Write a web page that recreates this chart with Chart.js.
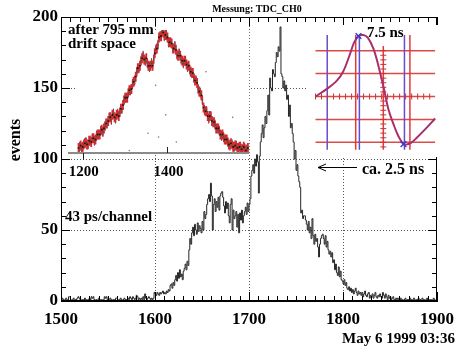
<!DOCTYPE html>
<html>
<head>
<meta charset="utf-8">
<script src="https://cdn.jsdelivr.net/npm/chart.js@4.4.1/dist/chart.umd.min.js"></script>
<style>
  body { margin: 0; background: #fff; }
  #wrap { position: relative; width: 462px; height: 355px; }
  #wrap canvas { position: absolute; }
</style>
</head>
<body>
<div id="wrap">
  <canvas id="tdc" width="462" height="355" style="left:0;top:0"></canvas>
  <canvas id="drift" width="192" height="162" style="left:64px;top:18px"></canvas>
  <canvas id="scope" width="136" height="132" style="left:307px;top:25px"></canvas>
</div>
<script>
// TDC histogram, one bin per channel, 1500..1899
const firstChannel = 1500;
const lastChannel = 1900;
const counts = [
  1,0,2,1,0,1,2,1,0,3,3,1,0,1,2,0,1,1,2,3,
  2,1,0,1,1,0,2,1,1,0,1,2,1,3,2,3,1,0,1,0,
  1,2,0,1,1,0,1,3,2,3,1,1,0,2,1,0,1,1,0,2,
  2,1,0,1,2,1,0,1,2,1,1,0,2,1,3,2,1,3,2,1,
  2,4,3,1,2,1,2,1,3,1,5,2,1,2,3,2,1,2,1,2,
  6,5,4,6,5,4,6,5,6,7,5,6,5,7,6,8,7,11,12,9,
  13,11,15,18,14,20,16,22,17,19,15,21,23,26,22,28,25,36,44,40,
  48,52,46,54,50,47,55,49,53,51,48,56,50,63,58,61,68,72,75,70,
  83,74,50,68,72,63,70,66,73,64,74,76,77,73,67,62,70,65,69,60,
  55,68,72,50,64,58,60,63,52,61,48,62,57,64,55,60,63,66,61,69,
  63,68,72,88,92,96,90,100,95,103,98,76,102,112,118,124,115,122,130,125,
  134,145,131,157,150,148,163,160,158,168,175,172,179,176,193,160,158,150,155,148,
  152,142,145,130,138,122,125,118,112,100,106,92,96,88,84,80,62,64,58,60,
  60,57,54,50,56,48,52,44,58,46,40,47,42,44,38,31,40,44,46,47,
  44,40,46,38,42,36,33,35,31,34,27,29,22,26,20,18,24,17,21,15,
  14,12,15,11,13,9,8,10,7,9,6,8,5,7,9,6,4,7,5,6,
  4,6,3,5,7,4,3,5,6,2,4,3,5,2,4,6,3,2,4,3,
  5,3,2,6,4,2,5,3,1,4,2,3,1,2,3,1,0,2,1,2,
  1,0,2,1,1,0,1,2,0,1,1,0,2,1,0,1,2,1,0,1,
  1,2,0,1,0,2,1,1,0,1,2,0,1,0,1,1,0,2,1,0
];
const xMajor = 100, yMajor = 50;

// inset 1: profile after 795 mm drift space (two overlaid runs)
const driftX = [1190,1195,1200,1205,1210,1215,1220,1225,1230,1235,1240,1245,1250,1255,1260,1265,1270,1275,1280,1285,
  1290,1295,1300,1305,1310,1315,1320,1325,1330,1335,1340,1345,1350,1355,1360,1365,1370,1375,1380,1385,
  1390,1395,1400,1405,1410,1415,1420,1425,1430,1435,1440,1445,1450,1455,1460,1465,1470,1475,1480,1485,
  1490,1495,1500,1505,1510,1515,1520,1525,1530,1535,1540,1545,1550,1555,1560,1565,1570,1575,1580,1585,1590];
const driftY = [4,6,5,8,7,10,9,12,11,15,15,19,20,24,26,29,31,29,31,30,
  36,39,45,45,51,52,58,62,69,71,77,76,77,71,71,71,81,85,94,95,
  98,96,94,90,89,85,84,79,79,75,75,72,71,66,65,59,57,50,47,37,
  34,30,30,26,25,20,20,15,15,11,11,7,8,5,6,4,5,3,5,2,4];
const driftX2 = [1192.5,1197.5,1202.5,1207.5,1212.5,1217.5,1222.5,1227.5,1232.5,1237.5,1242.5,1247.5,1252.5,1257.5,1262.5,1267.5,1272.5,1277.5,1282.5,1287.5,
  1292.5,1297.5,1302.5,1307.5,1312.5,1317.5,1322.5,1327.5,1332.5,1337.5,1342.5,1347.5,1352.5,1357.5,1362.5,1367.5,1372.5,1377.5,1382.5,1387.5,
  1392.5,1397.5,1402.5,1407.5,1412.5,1417.5,1422.5,1427.5,1432.5,1437.5,1442.5,1447.5,1452.5,1457.5,1462.5,1467.5,1472.5,1477.5,1482.5,1487.5,
  1492.5,1497.5,1502.5,1507.5,1512.5,1517.5,1522.5,1527.5,1532.5,1537.5,1542.5,1547.5,1552.5,1557.5,1562.5,1567.5,1572.5,1577.5,1582.5,1587.5];
const driftY2 = [5,4,7,9,7,10,12,10,14,15,18,17,22,24,29,27,32,28,32,33,
  36,43,45,49,51,56,59,66,69,75,79,75,73,70,73,76,84,88,95,99,
  95,96,90,90,85,87,80,81,76,73,75,70,68,65,61,59,52,49,43,35,
  34,28,30,25,23,20,18,14,13,11,9,6,7,5,6,4,5,3,4,3];
const strayX = [1372,1354,1379,1396,1421,1554,1491,1310];
const strayY = [55,16,13,31,9,29,66,2];
const driftTicks = [1200, 1400];

// inset 2: scope trace (ns, divisions)
const traceT = [0,1.84,3.52,4.59,5.67,6.43,7.2,7.96,8.73,9.65,10.41,11.33,12.1,13.02,13.78,14.7,15.77,16.85,18.07,19.91];
const traceV = [0,0.32,0.68,1.08,1.8,2.36,2.64,2.68,2.56,2.08,1.4,0.4,-0.52,-1.24,-1.72,-2.08,-2.04,-1.8,-1.48,-0.96];
const markT = [7.15, 14.64];
const markV = [2.64, -2.08];
const hLevels = [2, 1, 0, -1, -2];
const vCursors = [1.95, 6.69, 7.3, 11.28, 14.8, 15.71];
const vColors = ['#6a4cc8', '#e03a3a', '#5a50d0', '#e03a3a', '#6a4cc8', '#e03a3a'];
const hTicks = [0,1,2,3,4,5,6,7,8,9,10,11,12,13,14,15,16,17,18,19];
const vTicks = [-2.2,-2,-1.8,-1.6,-1.4,-1.2,-1,-0.8,-0.6,-0.4,-0.2,0.2,0.4,0.6,0.8,1,1.2,1.4,1.6,1.8,2];

const SERIF = '"Liberation Serif", "Times New Roman", serif';
Chart.defaults.font.family = SERIF;
Chart.defaults.animation = false;
Chart.defaults.devicePixelRatio = 1;

// ROOT-like frame: full box and inside ticks on all four sides
const frameTicks = {
  id: 'frameTicks',
  afterDatasetsDraw(chart) {
    const { ctx, chartArea: a, scales: { x, y } } = chart;
    ctx.save();
    ctx.strokeStyle = '#000';
    ctx.lineWidth = 1;
    ctx.strokeRect(a.left + 0.5, a.top + 0.5, a.right - a.left - 1, a.bottom - a.top - 1);
    ctx.beginPath();
    x.ticks.forEach(t => {
      const px = Math.round(x.getPixelForValue(t.value)) + 0.5;
      const len = t.value % xMajor === 0 ? 9 : 5;
      ctx.moveTo(px, a.bottom); ctx.lineTo(px, a.bottom - len);
      ctx.moveTo(px, a.top); ctx.lineTo(px, a.top + len);
    });
    y.ticks.forEach(t => {
      const py = Math.round(y.getPixelForValue(t.value)) + 0.5;
      const len = t.value % yMajor === 0 ? 9 : 5;
      ctx.moveTo(a.left, py); ctx.lineTo(a.left + len, py);
      ctx.moveTo(a.right, py); ctx.lineTo(a.right - len, py);
    });
    ctx.stroke();
    ctx.restore();
  }
};

const notes = {
  id: 'notes',
  afterDraw(chart) {
    const { ctx } = chart;
    ctx.save();
    ctx.fillStyle = '#000';
    ctx.font = 'bold 10px ' + SERIF;
    ctx.textAlign = 'center';
    ctx.fillText('Messung: TDC_CH0', 257, 12);

    ctx.font = 'bold 15px ' + SERIF;
    ctx.textAlign = 'right';
    ctx.fillText('May 6 1999 03:36', 455, 343);

    ctx.textAlign = 'left';
    ctx.fillText('43 ps/channel', 65, 221);
    ctx.font = 'bold 16px ' + SERIF;
    ctx.fillText('ca. 2.5 ns', 362, 174);

    ctx.strokeStyle = '#000';
    ctx.lineWidth = 1;
    ctx.beginPath();
    ctx.moveTo(357, 167.5); ctx.lineTo(318, 167.5);
    ctx.moveTo(326, 164); ctx.lineTo(318, 167.5); ctx.lineTo(326, 171);
    ctx.stroke();

    ctx.translate(15, 140);
    ctx.rotate(-Math.PI / 2);
    ctx.textAlign = 'center';
    ctx.font = 'bold 16px ' + SERIF;
    ctx.fillText('events', 0, 5);
    ctx.restore();
  }
};

function dottedGrid(major, min, max) {
  return c => (c.tick && c.tick.value % major === 0 && c.tick.value > min && c.tick.value < max) ? '#555' : 'rgba(0,0,0,0)';
}

function createHistogram() {
  const ctx = document.getElementById('tdc').getContext('2d');
  const points = counts.map((v, i) => ({ x: firstChannel + i, y: v }));
  points.push({ x: lastChannel, y: counts[counts.length - 1] });
  new Chart(ctx, {
    type: 'line',
    data: {
      datasets: [{
        label: 'TDC_CH0',
        data: points,
        stepped: 'after',
        borderColor: '#262626',
        borderWidth: 1,
        pointRadius: 0,
        fill: false
      }]
    },
    options: {
      responsive: false,
      layout: { padding: { left: 0, right: 13, top: 17, bottom: 0 } },
      plugins: { legend: { display: false }, title: { display: false }, tooltip: { enabled: false } },
      scales: {
        x: {
          type: 'linear',
          min: firstChannel,
          max: lastChannel,
          afterFit: s => { s.height = 54; },
          grid: { drawTicks: false, color: dottedGrid(xMajor, firstChannel, lastChannel) },
          border: { display: true, color: '#000', width: 1, dash: [1, 2] },
          ticks: {
            stepSize: 10, autoSkip: false, maxRotation: 0, padding: 8, color: '#000',
            font: { size: 17, weight: 'bold' },
            callback: v => v % xMajor === 0 ? v : ''
          }
        },
        y: {
          min: 0,
          max: 200,
          afterFit: s => { s.width = 61; },
          grid: { drawTicks: false, color: dottedGrid(yMajor, 0, 200) },
          border: { display: true, color: '#000', width: 1, dash: [1, 2] },
          ticks: {
            stepSize: 10, autoSkip: false, padding: 3, color: '#000',
            font: { size: 17, weight: 'bold' },
            callback: v => v % yMajor === 0 ? v : ''
          }
        }
      }
    },
    plugins: [frameTicks, notes]
  });
}

function createDriftInset() {
  const ctx = document.getElementById('drift').getContext('2d');
  const run1 = driftX.map((x, i) => ({ x: x, y: driftY[i] }));
  const run2 = driftX2.map((x, i) => ({ x: x, y: driftY2[i] }));
  const stray = strayX.map((x, i) => ({ x: x, y: strayY[i] }));
  new Chart(ctx, {
    type: 'scatter',
    data: {
      datasets: [
        { data: run1, pointStyle: 'rect', pointRadius: 1.1, backgroundColor: '#111', borderWidth: 0 },
        { data: run2, pointStyle: 'rect', pointRadius: 1, backgroundColor: '#2a6a3a', borderWidth: 0 },
        { data: run1, pointStyle: 'line', rotation: 90, pointRadius: 5, borderColor: '#d82a2a', borderWidth: 1.8 },
        { data: run2, pointStyle: 'line', rotation: 90, pointRadius: 4, borderColor: '#c03040', borderWidth: 1.4 },
        { data: run2, pointStyle: 'line', rotation: 90, pointRadius: 5, borderColor: '#40407a', borderWidth: 1 },
        { data: stray, pointRadius: 0.8, backgroundColor: '#777', borderWidth: 0 }
      ]
    },
    options: {
      responsive: false,
      layout: { padding: { left: 12, right: 4, top: 12, bottom: 27 } },
      plugins: { legend: { display: false }, tooltip: { enabled: false } },
      scales: {
        x: { type: 'linear', min: 1184, max: 1593, display: false },
        y: { min: 0, max: 100, display: false }
      }
    },
    plugins: [{
      id: 'driftFrame',
      beforeDraw(chart) {
        const { ctx, chartArea: a } = chart;
        ctx.save();
        ctx.fillStyle = '#fff';
        ctx.fillRect(a.left, a.top, a.right - a.left, a.bottom - a.top + 1);
        ctx.restore();
      },
      afterDraw(chart) {
        const { ctx, chartArea: a, scales: { x } } = chart;
        ctx.save();
        ctx.strokeStyle = '#8a8a8a';
        ctx.lineWidth = 2;
        ctx.beginPath();
        ctx.moveTo(a.left - 8, a.bottom); ctx.lineTo(a.right, a.bottom);
        ctx.stroke();
        ctx.strokeStyle = '#222';
        ctx.lineWidth = 1;
        ctx.beginPath();
        const p0 = Math.round(x.getPixelForValue(driftTicks[0])) + 0.5;
        const p1 = Math.round(x.getPixelForValue(driftTicks[1])) + 0.5;
        ctx.moveTo(p0, a.bottom); ctx.lineTo(p0, a.bottom + 7);
        ctx.moveTo(p1, a.bottom); ctx.lineTo(p1, a.bottom - 6);
        ctx.stroke();
        ctx.fillStyle = '#000';
        ctx.font = 'bold 15px ' + SERIF;
        ctx.textAlign = 'center';
        driftTicks.forEach(t => ctx.fillText(String(t), x.getPixelForValue(t) + 1, a.bottom + 23));
        ctx.textAlign = 'left';
        ctx.fillText('after 795 mm', 4, 16);
        ctx.fillText('drift space', 4, 30);
        ctx.restore();
      }
    }]
  });
}

function createScopeInset() {
  const ctx = document.getElementById('scope').getContext('2d');
  const datasets = [];
  datasets.push({
    data: markT.map((t, i) => ({ x: t, y: markV[i] })),
    pointStyle: 'crossRot', pointRadius: 4, borderColor: '#3a3ad0', borderWidth: 1.5, showLine: false
  });
  datasets.push({
    data: traceT.map((t, i) => ({ x: t, y: traceV[i] })),
    showLine: true, tension: 0.35, borderColor: '#a8306a', borderWidth: 2, pointRadius: 0
  });
  datasets.push({
    data: hTicks.map(t => ({ x: t, y: 0 })),
    pointStyle: 'line', rotation: 90, pointRadius: 3, borderColor: '#d03030', borderWidth: 1
  });
  datasets.push({
    data: vTicks.map(v => ({ x: vCursors[3], y: v })),
    pointStyle: 'line', pointRadius: 3, borderColor: '#d03030', borderWidth: 1
  });
  vCursors.forEach((c, i) => {
    datasets.push({
      data: [{ x: c, y: -2.32 }, { x: c, y: i === 3 ? 2.2 : 2.68 }],
      showLine: true, borderColor: vColors[i], borderWidth: 1.5, pointRadius: 0
    });
  });
  hLevels.forEach(h => {
    datasets.push({
      data: [{ x: 0, y: h }, { x: 19.9, y: h }],
      showLine: true, borderColor: '#dc4a48', borderWidth: 1.5, pointRadius: 0
    });
  });
  new Chart(ctx, {
    type: 'scatter',
    data: { datasets: datasets },
    options: {
      responsive: false,
      layout: { padding: 0 },
      plugins: { legend: { display: false }, tooltip: { enabled: false } },
      scales: {
        x: { type: 'linear', min: -0.5, max: 20.3, display: false },
        y: { min: -2.4, max: 2.88, display: false }
      }
    },
    plugins: [{
      id: 'scopeFrame',
      beforeDraw(chart) {
        const { ctx } = chart;
        ctx.save();
        ctx.fillStyle = '#fff';
        ctx.fillRect(0, 0, chart.width, chart.height);
        ctx.restore();
      },
      afterDraw(chart) {
        const { ctx } = chart;
        ctx.save();
        ctx.fillStyle = '#000';
        ctx.font = 'bold 15px ' + SERIF;
        ctx.fillText('7.5 ns', 60, 12);
        ctx.restore();
      }
    }]
  });
}

createHistogram();
createDriftInset();
createScopeInset();
</script>
</body>
</html>
